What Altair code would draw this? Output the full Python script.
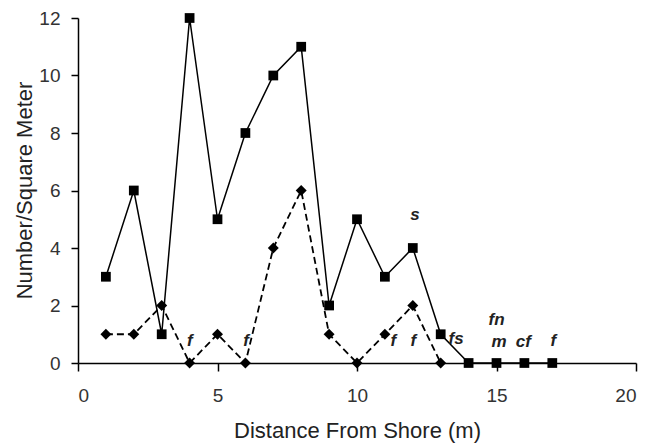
import altair as alt
import pandas as pd

# Series A (solid line, squares)
dist_a = [1, 2, 3, 4, 5, 6, 7, 8, 9, 10, 11, 12, 13, 14, 15, 16, 17]
count_a = [3, 6, 1, 12, 5, 8, 10, 11, 2, 5, 3, 4, 1, 0, 0, 0, 0]

# Series B (dashed line, diamonds)
dist_b = [1, 2, 3, 4, 5, 6, 7, 8, 9, 10, 11, 12, 13]
count_b = [1, 1, 2, 0, 1, 0, 4, 6, 1, 0, 1, 2, 0]

# Text annotations
ann_x = [4.01, 6.02, 11.30, 12.02, 13.55, 15.0, 15.09, 15.96, 17.04, 12.08]
ann_y = [0.59, 0.59, 0.59, 0.59, 0.65, 1.32, 0.57, 0.57, 0.59, 4.97]
ann_text = ["f", "f", "f", "f", "fs", "fn", "m", "cf", "f", "s"]

df_a = pd.DataFrame({"x": dist_a, "y": count_a})
df_b = pd.DataFrame({"x": dist_b, "y": count_b})
df_t = pd.DataFrame({"x": ann_x, "y": ann_y, "t": ann_text})

xs = alt.Scale(domain=[0, 20], nice=False, zero=False)
ys = alt.Scale(domain=[0, 12], nice=False)

xaxis = alt.Axis(
    values=[0, 5, 10, 15, 20], title="Distance From Shore (m)", grid=False,
    tickSize=8, labelPadding=15, labelFontSize=19, titleFontSize=22,
    titleFontWeight="normal", titleX=279, titleY=74, titleBaseline="alphabetic",
    titleAlign="center",
)
yaxis = alt.Axis(
    values=[0, 2, 4, 6, 8, 10, 12], title="Number/Square Meter", grid=False,
    tickSize=7, labelPadding=11, labelFontSize=19, titleFontSize=22,
    titleFontWeight="normal", titleX=-54, titleY=172, titleAngle=270,
    titleAlign="center", titleBaseline="middle",
)

line_a = alt.Chart(df_a).mark_line(color="black", strokeWidth=1.5).encode(
    x=alt.X("x:Q", scale=xs, axis=xaxis),
    y=alt.Y("y:Q", scale=ys, axis=yaxis),
)
pts_a = alt.Chart(df_a).mark_point(shape="square", filled=True, color="black", size=95, opacity=1).encode(
    x=alt.X("x:Q", scale=xs), y=alt.Y("y:Q", scale=ys)
)
line_b = alt.Chart(df_b).mark_line(color="black", strokeWidth=1.8, strokeDash=[7, 4]).encode(
    x=alt.X("x:Q", scale=xs), y=alt.Y("y:Q", scale=ys)
)
pts_b = alt.Chart(df_b).mark_point(shape="diamond", filled=True, color="black", size=120, opacity=1).encode(
    x=alt.X("x:Q", scale=xs), y=alt.Y("y:Q", scale=ys)
)
txt = alt.Chart(df_t).mark_text(
    font="Liberation Sans", fontSize=17, fontStyle="italic", fontWeight="bold",
    color="#222", align="center", baseline="alphabetic",
).encode(x=alt.X("x:Q", scale=xs), y=alt.Y("y:Q", scale=ys), text="t:N")

chart = (
    alt.layer(line_a, line_b, pts_a, pts_b, txt)
    .properties(
        width=558, height=345,
        autosize=alt.AutoSizeParams(type="none"),
        padding={"left": 78, "top": 18, "right": 16, "bottom": 81},
        background="white",
    )
    .configure_view(stroke=None)
    .configure_axis(
        domainColor="black", tickColor="black", labelColor="#333", titleColor="#222",
        labelFont="Liberation Sans", titleFont="Liberation Sans",
        domainWidth=1.5, tickWidth=1.5,
    )
)

chart.save("out.html", embed_options={"renderer": "svg", "actions": False})
